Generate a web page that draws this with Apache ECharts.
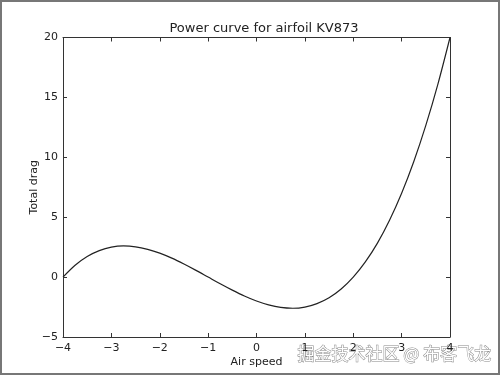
<!DOCTYPE html>
<html><head><meta charset="utf-8">
<script src="https://cdn.jsdelivr.net/npm/echarts@6/dist/echarts.min.js"></script>
<style>html,body{margin:0;padding:0;background:#fff}#c{width:500px;height:375px;box-sizing:border-box;border:2px solid #777}</style>
</head><body><div id="c"></div>
<script>
const airSpeed = [-4,-3.75,-3.5,-3.25,-3,-2.75,-2.5,-2.25,-2,-1.75,-1.5,-1.25,-1,-0.75,-0.5,-0.25,0,0.25,0.5,0.75,1,1.25,1.5,1.75,2,2.25,2.5,2.75,3,3.25,3.5,3.75,4];
const totalDrag = [0,0.99,1.72,2.21,2.5,2.6,2.53,2.32,2,1.58,1.09,0.56,0,-0.56,-1.09,-1.58,-2,-2.32,-2.53,-2.6,-2.5,-2.21,-1.72,-0.99,0,1.27,2.84,4.75,7,9.63,12.66,16.11,20];
const xTicks = [-4,-3,-2,-1,0,1,2,3,4];
const yTicks = [-5,0,5,10,15,20];
const titleText = 'Power curve for airfoil KV873';
const xName = 'Air speed';
const yName = 'Total drag';
const watermark = '掘金技术社区 @ 布客飞龙';

const font = 'DejaVu Sans';
const chart = echarts.init(document.getElementById('c'), null, {renderer:'canvas'});
const axisCommon = {
  axisLine:{show:true, onZero:false, lineStyle:{color:'#333', width:1}},
  axisTick:{show:true, inside:true, length:4, lineStyle:{color:'#333'}},
  splitLine:{show:false}
};
const fmt = v => String(v).replace('-','\u2212');
chart.setOption({
  animation:false,
  title:{text:titleText, left:257, top:15, textAlign:'center',
    textStyle:{fontFamily:font, fontSize:13, fontWeight:'normal', color:'#222'}},
  grid:{left:61, right:48, top:35.5, bottom:35.5},
  xAxis:[
    Object.assign({type:'value', min:xTicks[0], max:xTicks[xTicks.length-1], interval:1, position:'bottom',
      name:xName, nameLocation:'middle', nameGap:20, nameMoveOverlap:false,
      nameTextStyle:{fontFamily:font, fontSize:11, color:'#222'},
      axisLabel:{fontFamily:font, fontSize:11, color:'#222', margin:6, formatter:fmt}}, axisCommon),
    Object.assign({type:'value', min:xTicks[0], max:xTicks[xTicks.length-1], interval:1, position:'top',
      axisLabel:{show:false}}, axisCommon)
  ],
  yAxis:[
    Object.assign({type:'value', min:yTicks[0], max:yTicks[yTicks.length-1], interval:5, position:'left',
      name:yName, nameLocation:'middle', nameGap:23, nameMoveOverlap:false,
      nameTextStyle:{fontFamily:font, fontSize:11, color:'#222'},
      axisLabel:{fontFamily:font, fontSize:11, color:'#222', margin:5, formatter:fmt}}, axisCommon),
    Object.assign({type:'value', min:yTicks[0], max:yTicks[yTicks.length-1], interval:5, position:'right',
      axisLabel:{show:false}}, axisCommon)
  ],
  series:[{type:'line', data:airSpeed.map((x,i)=>[x,totalDrag[i]]), smooth:0.3,
    showSymbol:false, lineStyle:{color:'#222', width:1.2}}],
  graphic:[{type:'text', left:295, top:343, style:{text:watermark,
    font:'17px "Noto Sans CJK SC"', fill:'#fff', stroke:'#888', lineWidth:1}}]
});
</script></body></html>
